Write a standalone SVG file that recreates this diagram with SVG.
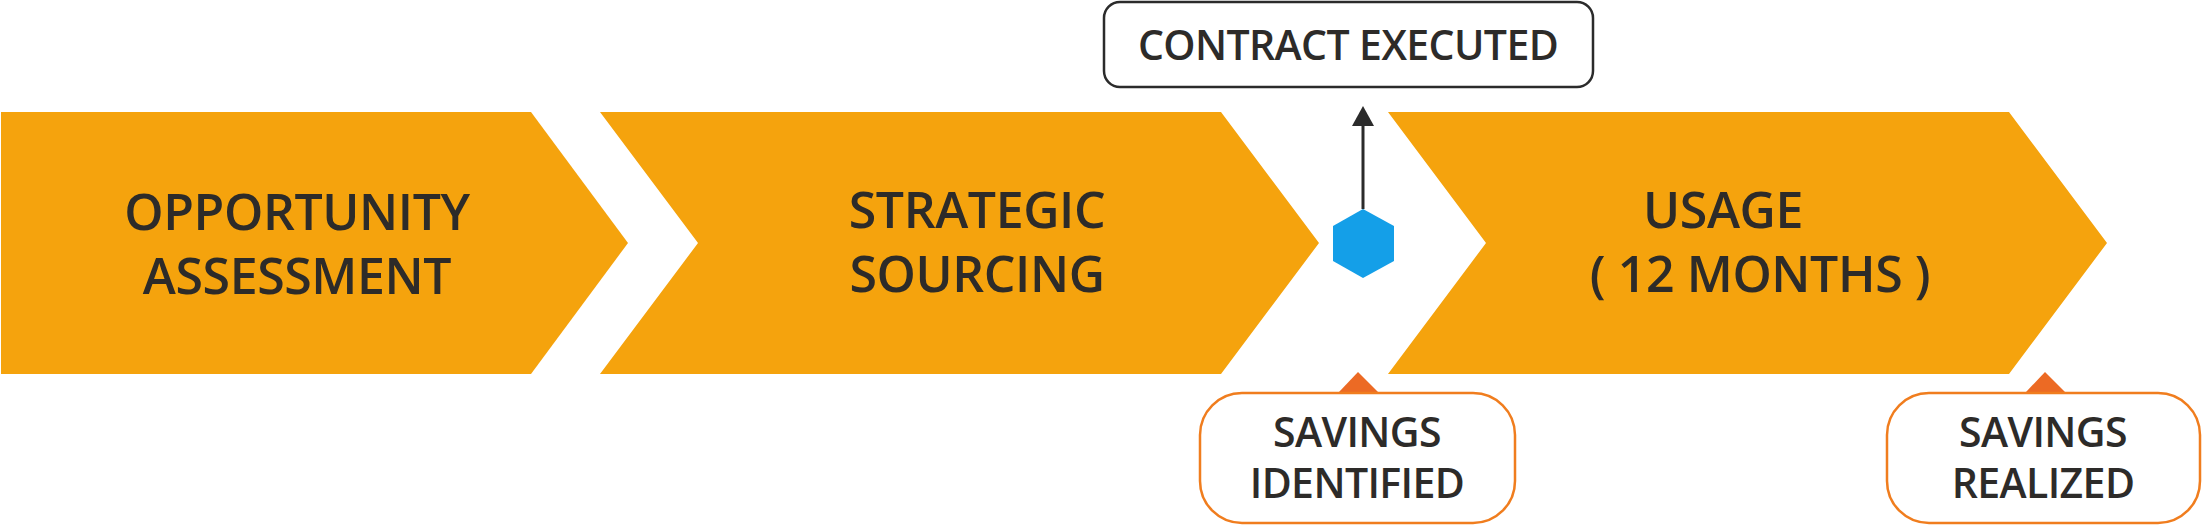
<svg xmlns="http://www.w3.org/2000/svg" width="2203" height="525" viewBox="0 0 2203 525">
<style>
.chev{fill:#f5a30d}
.t{font-family:"Open Sans","Liberation Sans",sans-serif;fill:#2d2b29;text-anchor:middle;font-weight:600}
.big{font-size:50px;letter-spacing:-0.4px}
.mid{font-size:41px;letter-spacing:-0.6px}
.call{fill:#fff;stroke:#f07d1e;stroke-width:2.5}
.ptr{fill:#ec6a24}
</style>
<defs>
<marker id="ah" markerWidth="20" markerHeight="22" refX="0" refY="11" viewBox="0 0 20 22" markerUnits="userSpaceOnUse" orient="auto">
<path d="M0,0 L20,11 L0,22 Z" fill="#2b2b2b"/>
</marker>
</defs>
<g id="opportunity-assessment">
<polygon class="chev" points="1,112 531,112 628,243 531,374 1,374"/>
<text class="t big" x="297" y="230">OPPORTUNITY</text>
<text class="t big" x="297" y="294">ASSESSMENT</text>
</g>
<g id="strategic-sourcing">
<polygon class="chev" points="600,112 1221,112 1319,243 1221,374 600,374 698,243"/>
<text class="t big" x="977" y="228">STRATEGIC</text>
<text class="t big" x="977" y="292">SOURCING</text>
</g>
<g id="usage">
<polygon class="chev" points="1388,112 2009,112 2107,243 2009,374 1388,374 1486,243"/>
<text class="t big" x="1723" y="228">USAGE</text>
<text class="t big" x="1760" y="292">( 12 MONTHS )</text>
</g>
<g id="milestone">
<polygon points="1363,209 1394,226 1394,261 1363,278 1333,261 1333,226" fill="#149fe8"/>
</g>
<g id="contract-executed">
<rect x="1104" y="2" width="489" height="85" rx="16" fill="#fff" stroke="#2b2b2b" stroke-width="2.5"/>
<text class="t mid" x="1348" y="60">CONTRACT EXECUTED</text>
</g>
<g id="savings-identified">
<polygon class="ptr" points="1358,372 1378,392 1339,392"/>
<rect class="call" x="1200" y="393" width="315" height="130" rx="42"/>
<text class="t mid" x="1357" y="447">SAVINGS</text>
<text class="t mid" x="1357" y="498">IDENTIFIED</text>
</g>
<g id="savings-realized">
<polygon class="ptr" points="2045,372 2065,392 2026,392"/>
<rect class="call" x="1887" y="393" width="313" height="130" rx="42"/>
<text class="t mid" x="2043" y="447">SAVINGS</text>
<text class="t mid" x="2043" y="498">REALIZED</text>
</g>
<g id="connectors">
<line x1="1363" y1="209" x2="1363" y2="126" stroke="#2b2b2b" stroke-width="3" marker-end="url(#ah)"/>
</g>
</svg>
